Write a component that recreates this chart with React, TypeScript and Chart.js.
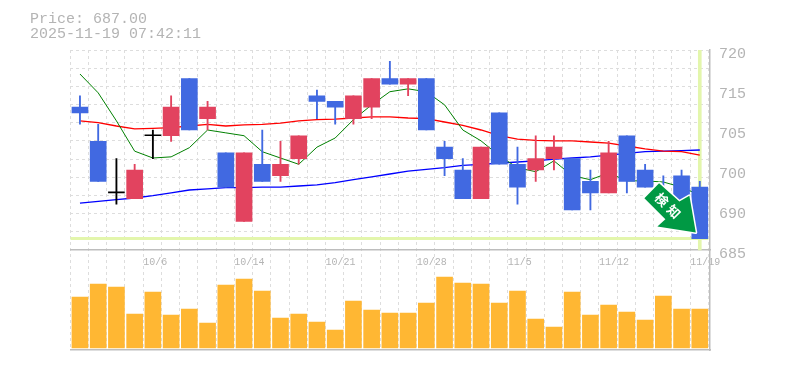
import React, { useEffect, useRef } from "react";
import { Chart, registerables } from "chart.js";

Chart.register(...registerables);

const headerLines = ["Price: 687.00", "2025-11-19 07:42:11"];
const tickCells = [4, 9, 14, 19, 24, 29, 34];
const tickLabels = ["10/6", "10/14", "10/21", "10/28", "11/5", "11/12", "11/19"];
const priceLabels = ["720", "715", "705", "700", "690", "685"];
const kinds = "bbkrkrbrbrbrrbbrrbrbbbrbbrrbbrbbbbb".split("");
const bodyTop = [710,704,695,699,705,710,715,710,702,702,700,700,705,712,711,712,715,715,715,715,703,699,703,709,700,701,703,701,697,702,705,699,694,698,696];
const bodyBottom = [709,697,695,694,705,705,706,708,696,690,697,698,701,711,710,708,710,714,714,706,701,694,694,700,696,699,701,692,695,695,697,696,692,693,687];
const highs = [712,707,701,700,706,712,715,711,702,702,706,704,705,713,711,712,715,718,715,715,704,701,703,709,703,705,705,701,699,704,705,700,698,699,697];
const lows = [707,697,693,694,701,704,706,706,696,690,697,697,700,708,707,707,708,714,712,706,698,694,694,700,693,697,699,692,692,695,695,696,692,693,687];
const maShort = [715.8,712.5,707.6,702.3,701.1,701.3,702.9,706,705.5,705,702.2,701.1,700,703,704.6,707.8,710.4,712.7,713.2,712.7,710.4,706,704.1,701.5,699.4,698.7,700.6,698,697.3,698.5,697.1,697.1,696.9,696,694.6];
const maMid = [707.6,707.3,706.7,706.2,706.3,706.4,706.7,707,706.7,706.9,707,707.2,707.6,707.8,707.9,708.1,708.3,708.3,708.1,708,707.4,706.8,706,705,704.4,704.2,704.1,704.1,703.9,703.7,703.2,702.7,702.3,702.2,701.6];
const maLong = [693.2,693.5,693.8,694.1,694.5,695,695.5,695.7,695.9,695.9,696,696,696.2,696.4,696.8,697.3,697.8,698.3,698.8,699.1,699.4,699.8,700,700.2,700.4,700.6,700.9,701.1,701.3,701.6,701.9,702.2,702.3,702.4,702.5];
const volumes = [51,64,61,34,56,33,39,25,63,69,57,30,34,26,18,47,38,35,35,45,71,65,64,45,57,29,21,56,33,43,36,28,52,39,39];
const lastPrice = 687;
const badgeText = ["検", "知"];

const RED = "#E2435F";
const BLUE = "#4169E1";
const BLACK = "#000000";
const VOL = "#FFB733";
const CROSS = "#E3F6AC";
const GRID = "#DDDDDD";
const AXIS = "#BDBDBD";
const TEXT = "#B4B4B4";
const MONO = "'Liberation Mono', monospace";

const CELLS = 35;
const xOf = (i: number) => i + 0.53;
const colorOf = (k: string) => (k === "r" ? RED : k === "b" ? BLUE : BLACK);
const candleColors = kinds.map(colorOf);

const badgePlugin = {
  id: "badge",
  afterDatasetsDraw(chart: any) {
    const { ctx, scales } = chart;
    const tx = scales.x.getPixelForValue(xOf(CELLS - 1)) - 4;
    const ty = scales.y.getPixelForValue(lastPrice) - 6;
    const shape = [[-36.7, -49.4], [-51.4, -34.4], [-30.4, -13.4], [-38.4, -6], [0, 0], [-6.4, -36.7], [-16.4, -31]];
    ctx.save();
    ctx.beginPath();
    shape.forEach(([dx, dy], i) => (i ? ctx.lineTo(tx + dx, ty + dy) : ctx.moveTo(tx + dx, ty + dy)));
    ctx.closePath();
    ctx.lineJoin = "round";
    ctx.lineWidth = 3;
    ctx.strokeStyle = "#FFFFFF";
    ctx.stroke();
    ctx.fillStyle = "#009944";
    ctx.fill();
    ctx.fillStyle = "#FFFFFF";
    ctx.font = "bold 13px 'Noto Sans CJK JP'";
    ctx.textAlign = "center";
    ctx.textBaseline = "middle";
    [[-34, -33], [-22, -21]].forEach(([dx, dy], i) => {
      ctx.save();
      ctx.translate(tx + dx, ty + dy);
      ctx.rotate(Math.PI / 4);
      ctx.fillText(badgeText[i], 0, 0);
      ctx.restore();
    });
    ctx.restore();
  },
};

export default function App() {
  const ref = useRef<HTMLCanvasElement>(null);
  useEffect(() => {
    const bar = { grouped: false, barThickness: 16, borderWidth: 0 };
    const line = { type: "line", pointRadius: 0, tension: 0, fill: false, yAxisID: "y" };
    const series = (v: number[]) => v.map((y, i) => ({ x: xOf(i), y }));
    const chart = new Chart(ref.current!, {
      type: "bar",
      plugins: [badgePlugin],
      data: {
        datasets: [
          { ...bar, order: 1, yAxisID: "y", minBarLength: 1, backgroundColor: candleColors,
            data: bodyTop.map((t, i) => ({ x: xOf(i), y: [bodyBottom[i], t] })) },
          { ...bar, order: 2, yAxisID: "y", barThickness: 1.2, backgroundColor: candleColors,
            data: highs.map((h, i) => ({ x: xOf(i), y: [lows[i], h] })) },
          { ...line, order: 3, borderColor: "#008000", borderWidth: 1, data: series(maShort) },
          { ...line, order: 4, borderColor: "#FF0000", borderWidth: 1.3, data: series(maMid) },
          { ...line, order: 5, borderColor: "#0000FF", borderWidth: 1.3, data: series(maLong) },
          { ...line, order: 6, borderColor: CROSS, borderWidth: 3, data: [{ x: 0, y: lastPrice }, { x: CELLS, y: lastPrice }] },
          { ...bar, order: 7, yAxisID: "y", barThickness: 3, backgroundColor: CROSS,
            data: [{ x: xOf(CELLS - 1), y: [685, 720] }] },
          { ...bar, order: 8, yAxisID: "yv", backgroundColor: VOL,
            data: series(volumes) },
        ],
      } as any,
      options: {
        responsive: false,
        animation: false,
        devicePixelRatio: 1,
        layout: { padding: { left: 30, top: 11.5, right: 0, bottom: 20 } },
        plugins: {
          legend: { display: false },
          tooltip: { enabled: false },
          title: {
            display: true,
            text: headerLines,
            align: "start",
            color: TEXT,
            font: { family: MONO, size: 15, weight: "normal", lineHeight: 1 },
            padding: { top: 0, bottom: 8.5 },
          },
        },
        scales: {
          x: {
            type: "linear",
            offset: false,
            min: 0,
            max: 35.09,
            position: { y: 685 },
            grid: { color: GRID, tickLength: 0, drawTicks: false, offset: false },
            border: { color: AXIS, width: 1.5, dash: [3, 3], dashOffset: 0 },
            ticks: {
              stepSize: 1,
              includeBounds: false,
              autoSkip: false,
              maxRotation: 0,
              align: "start",
              padding: 6,
              color: TEXT,
              font: { family: MONO, size: 10 },
              callback: (v: number) => {
                const k = tickCells.indexOf(v);
                return k >= 0 ? tickLabels[k] : "";
              },
            },
          },
          xb: {
            type: "linear",
            offset: false,
            position: "bottom",
            min: 0,
            max: 35.09,
            afterFit: (s: any) => { s.height = 0; },
            grid: { display: false, offset: false },
            border: { color: AXIS, width: 1.5 },
            ticks: { display: false },
          },
          yg: {
            position: "left",
            min: 667.5,
            max: 720,
            afterBuildTicks: (s: any) => {
              s.ticks = Array.from({ length: 11 }, (_, i) => ({ value: 720 - (i * 35) / 11 }));
            },
            afterFit: (s: any) => { s.width = 40.3; },
            grid: { color: GRID, drawTicks: false, tickLength: 0 },
            border: { display: false, dash: [3, 3] },
            ticks: { display: false },
          },
          y: {
            position: "right",
            min: 667.5,
            max: 720,
            afterBuildTicks: (s: any) => {
              s.ticks = priceLabels.map((_, i) => ({ value: 719.3 - 7 * i }));
            },
            afterFit: (s: any) => { s.width = 75; },
            grid: { display: false, drawTicks: false },
            border: { color: AXIS, width: 1.5 },
            ticks: {
              padding: 9,
              color: TEXT,
              font: { family: MONO, size: 15 },
              callback: (_: any, i: number) => priceLabels[i],
            },
          },
          yv: { display: false, min: -2, max: 298 },
        },
      } as any,
    });
    return () => chart.destroy();
  }, []);
  return (
    <div style={{ position: "absolute", left: 0, top: 0, width: 785, height: 370, background: "#fff" }}>
      <canvas ref={ref} width={785} height={370} style={{ display: "block" }} />
    </div>
  );
}
